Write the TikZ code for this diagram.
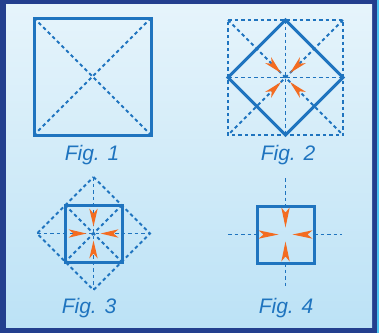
\documentclass[tikz,border=0pt]{standalone}
\usepackage{fontspec}
\setmainfont{Liberation Sans}
\definecolor{navy}{HTML}{233F8E}
\definecolor{lineblue}{HTML}{1F74BF}
\definecolor{arrorange}{HTML}{F36C21}
\definecolor{bgtop}{HTML}{E6F4FB}
\definecolor{bgbot}{HTML}{BCE2F6}
\definecolor{edgecyan}{HTML}{4CC4F0}
\tikzset{
  solidline/.style={draw=lineblue, line width=3pt, line join=miter},
  dashline/.style={draw=lineblue, line width=1.8pt, dash pattern=on 3.5pt off 3pt},
  figlabel/.style={text=lineblue, font=\fontsize{21}{21}\selectfont\itshape, anchor=base, inner sep=0pt},
  kitefill/.style={fill=arrorange, draw=none}
}
% kite arrow: center x, center y, direction angle (from centre outwards), tip distance, length
\newcommand{\kitearrow}[5]{%
  \begin{scope}[shift={(#1,#2)}, rotate=#3]
    \path[kitefill] (#4,0) -- (#4+#5,4.2) -- (#4+#5-5,0) -- (#4+#5,-4.2) -- cycle;
  \end{scope}}
\begin{document}
\begin{tikzpicture}[x=1pt,y=-1pt]
\useasboundingbox (0,0) rectangle (379,333);
% frame
\fill[navy] (0,0) rectangle (379,333);
\fill[edgecyan] (377,0) rectangle (379,333);
\shade[top color=bgtop, bottom color=bgbot] (6,4) rectangle (372,327);

% ---------- Fig. 1 ----------
\coordinate (a1) at (34,18);
\coordinate (b1) at (151,18);
\coordinate (c1) at (151,135);
\coordinate (d1) at (34,135);
\draw[dashline] (a1) -- (c1);
\draw[dashline] (b1) -- (d1);
\draw[solidline] (a1) -- (b1) -- (c1) -- (d1) -- cycle;
\node[figlabel] (l1) at (92,160) {Fig. 1};

% ---------- Fig. 2 ----------
\coordinate (a2) at (228,20);
\coordinate (b2) at (343,20);
\coordinate (c2) at (343,135);
\coordinate (d2) at (228,135);
\coordinate (o2) at (285.5,77.5);
\coordinate (t2) at (285.5,20);
\coordinate (r2) at (343,77.5);
\coordinate (u2) at (285.5,135);
\coordinate (l2) at (228,77.5);
\draw[dashline] (a2) -- (b2) -- (c2) -- (d2) -- cycle;
\draw[dashline] (a2) -- (c2);
\draw[dashline] (b2) -- (d2);
\draw[dashline] (t2) -- (u2);
\draw[dashline] (l2) -- (r2);
\draw[solidline] (t2) -- (r2) -- (u2) -- (l2) -- cycle;
\kitearrow{285.5}{77.5}{135}{6.5}{18}
\kitearrow{285.5}{77.5}{45}{6.5}{18}
\kitearrow{285.5}{77.5}{225}{6.5}{18}
\kitearrow{285.5}{77.5}{315}{6.5}{18}
\node[figlabel] (lab2) at (288,160) {Fig. 2};

% ---------- Fig. 3 ----------
\coordinate (o3) at (93.5,233.5);
\coordinate (t3) at (93.5,177);
\coordinate (r3) at (150,233.5);
\coordinate (u3) at (93.5,290);
\coordinate (l3) at (37,233.5);
\coordinate (a3) at (65,205);
\coordinate (b3) at (122,205);
\coordinate (c3) at (122,262);
\coordinate (d3) at (65,262);
\draw[dashline] (t3) -- (r3) -- (u3) -- (l3) -- cycle;
\draw[dashline] (t3) -- (u3);
\draw[dashline] (l3) -- (r3);
\draw[dashline] (a3) -- (c3);
\draw[dashline] (b3) -- (d3);
\draw[solidline] (a3) -- (b3) -- (c3) -- (d3) -- cycle;
\kitearrow{93.5}{233.5}{90}{7}{18}
\kitearrow{93.5}{233.5}{270}{7}{18}
\kitearrow{93.5}{233.5}{0}{7}{18}
\kitearrow{93.5}{233.5}{180}{7}{18}
\node[figlabel] (lab3) at (89,313) {Fig. 3};

% ---------- Fig. 4 ----------
\coordinate (a4) at (257,206);
\coordinate (b4) at (314,206);
\coordinate (c4) at (314,263);
\coordinate (d4) at (257,263);
\coordinate (nt4) at (285.5,178);
\coordinate (nb4) at (285.5,288);
\coordinate (nl4) at (228,234.5);
\coordinate (nr4) at (342,234.5);
\coordinate (et4) at (285.5,206);
\coordinate (eb4) at (285.5,263);
\coordinate (el4) at (257,234.5);
\coordinate (er4) at (314,234.5);
\draw[dashline] (nt4) -- (et4);
\draw[dashline] (eb4) -- (nb4);
\draw[dashline] (nl4) -- (el4);
\draw[dashline] (er4) -- (nr4);
\draw[solidline] (a4) -- (b4) -- (c4) -- (d4) -- cycle;
\kitearrow{285.5}{234.5}{90}{7}{20}
\kitearrow{285.5}{234.5}{270}{7}{20}
\kitearrow{285.5}{234.5}{0}{7}{20}
\kitearrow{285.5}{234.5}{180}{7}{20}
\node[figlabel] (lab4) at (286,313) {Fig. 4};
\end{tikzpicture}
\end{document}
